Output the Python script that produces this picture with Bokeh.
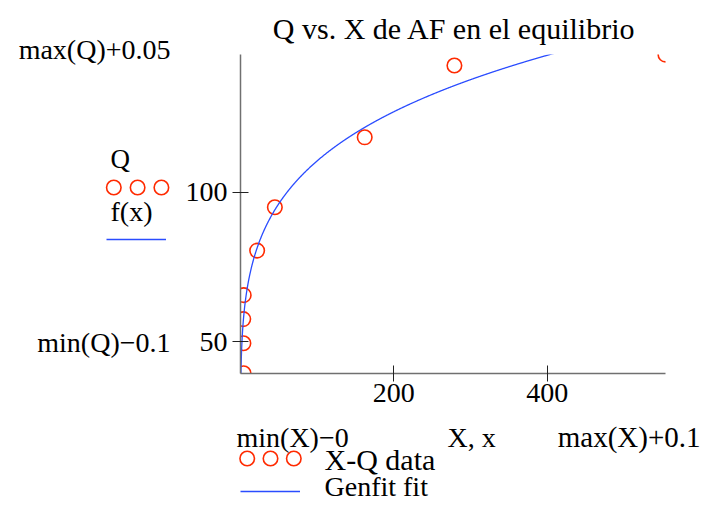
import numpy as np
from bokeh.plotting import figure
from bokeh.models import Range1d, FixedTicker, Label, Legend, LegendItem, BoxAnnotation
from bokeh.embed import file_html
from bokeh.resources import INLINE

# ---------------- data ----------------
X = [4.0, 3.8, 3.6, 4.2, 21.7, 44.8, 162.0, 279.0, 554.2]
Q = [39.5, 49.5, 57.6, 65.6, 80.5, 95.0, 118.4, 142.4, 146.05]
FIT_A = 44.0      # Genfit fit  f(x) = A * x^B
FIT_B = 0.2
X_TICKS = [200, 400]
Q_TICKS = [50, 100]
TITLE = "Q vs. X de AF en el equilibrio"
X_LOW = 0.0       # min(X) - 0

RED = "#ff2a00"
BLUE = "#2a4cff"
AXIS = "#707070"
FONT = "Liberation Serif"

x_lo, x_hi = X_LOW, max(X) + 0.1
y_lo, y_hi = min(Q) - 0.1, max(Q) + 0.05

# canvas and plot-area placement (pixels from the top-left of the canvas)
W, H = 702, 502
FL, FR, FT, FB = 240, 665, 54, 373
kx = (FR - FL) / (x_hi - x_lo)
ky = (FB - FT) / (y_hi - y_lo)
x_range = Range1d(x_lo - FL / kx, x_hi + (W - FR) / kx)
y_range = Range1d(y_lo - (H - FB) / ky, y_hi + FT / ky)


def to_x(px):
    return x_lo + (px - FL) / kx


def to_y(py):
    return y_lo + (FB - py) / ky


p = figure(width=W, height=H, x_range=x_range, y_range=y_range,
           output_backend="svg", toolbar_location=None, title=None,
           min_border=0)
p.grid.visible = False
p.outline_line_color = None
p.background_fill_color = "white"
p.border_fill_color = "white"

xa, ya = p.xaxis[0], p.yaxis[0]
xa.fixed_location = y_lo
ya.fixed_location = x_lo
xa.bounds = (x_lo, x_hi)
ya.bounds = (y_lo, y_hi)
xa.ticker = FixedTicker(ticks=X_TICKS)
ya.ticker = FixedTicker(ticks=Q_TICKS)
for ax in (xa, ya):
    ax.axis_line_color = AXIS
    ax.axis_line_width = 1.5
    ax.major_tick_line_color = "#222222"
    ax.major_tick_line_width = 1
    ax.major_tick_in = 8
    ax.major_tick_out = 8
    ax.minor_tick_line_color = None
    ax.major_label_text_font = FONT
    ax.major_label_text_font_size = "28px"
    ax.major_label_text_color = "black"
ya.major_label_standoff = 5
xa.major_label_standoff = 2

# ---------------- glyphs ----------------
MARK = dict(marker="circle", size=14.5, fill_color=None, line_color=RED, line_width=1.6)
xs = np.linspace(x_lo, x_hi, 1500)
ys = FIT_A * xs ** FIT_B
pts = p.scatter(X, Q, **MARK)
fit = p.line(xs, ys, line_color=BLUE, line_width=1.3)

# white masks: clip the marks to the plot area (drawn before the axes)
for kw in (dict(bottom=y_hi), dict(left=x_hi), dict(right=x_lo), dict(top=y_lo)):
    p.add_layout(BoxAnnotation(fill_color="white", fill_alpha=1.0, line_alpha=0,
                               level="glyph", **kw))


def lab(text, px, baseline_py, size, align="left"):
    middle = baseline_py - 0.3375 * size
    p.add_layout(Label(x=px, y=H - middle, x_units="screen", y_units="screen",
                       text=text, text_font=FONT, text_font_size=f"{size}px",
                       text_align=align, text_baseline="middle",
                       text_color="black"))


lab(TITLE, 454, 38, 30, "center")
lab("max(Q)+0.05", 170, 58, 28, "right")
lab("min(Q)\u22120.1", 170, 351, 28, "right")
lab("Q", 110, 168, 27)
lab("f(x)", 110, 220, 28)
lab("min(X)\u22120", 236, 446, 28)
lab("X, x", 447, 446, 28)
lab("max(X)+0.1", 700, 446, 29, "right")
lab("X-Q data", 324, 469, 30)
lab("Genfit fit", 324, 495, 28)


# legend samples: a row of three data markers, and a short piece of the fit line
def marker_row(first_px, step_px, center_py):
    sx = [to_x(first_px + i * step_px) for i in range(3)]
    sy = [to_y(center_py)] * 3
    p.scatter(sx, sy, level="annotation", **MARK)


def line_sample(left_px, center_py, gw):
    lg = Legend(items=[LegendItem(label=" ", renderers=[fit])],
                location=(left_px, H - (center_py + 10)),
                glyph_width=gw, glyph_height=20, label_width=0, label_standoff=0,
                label_height=20, spacing=0, padding=0, margin=0,
                border_line_color=None, background_fill_alpha=0,
                label_text_font_size="1px")
    p.add_layout(lg)


marker_row(113.3, 23.8, 187)
line_sample(106, 239, 60)
marker_row(246.7, 23.3, 458)
line_sample(240, 491, 60)

open("out.html", "w").write(file_html(p, INLINE))
